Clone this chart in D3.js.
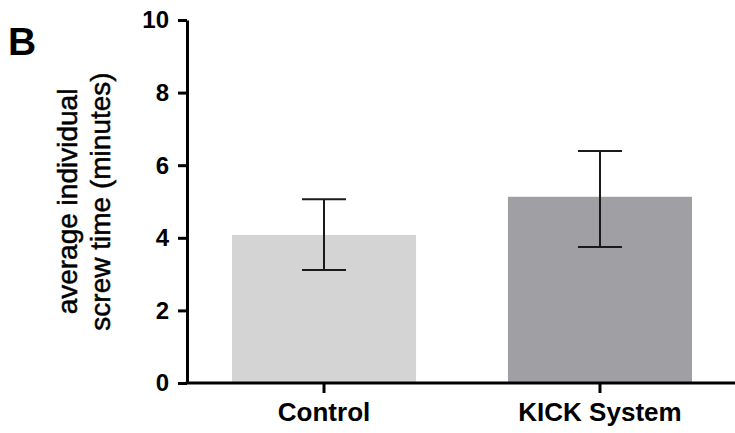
<!DOCTYPE html>
<html>
<head>
<meta charset="utf-8">
<script src="https://cdn.jsdelivr.net/npm/d3@7"></script>
<style>
  body { margin: 0; background: #fff; }
  text { font-family: "Liberation Sans", Arial, sans-serif; }
</style>
</head>
<body>
<div id="chart"></div>
<script>
// data
const groups = ["Control", "KICK System"];
const means = [4.08, 5.13];
const errLow = [3.11, 3.75];
const errHigh = [5.06, 6.39];
const barColors = ["#d4d4d4", "#a09fa3"];
const yTicks = [0, 2, 4, 6, 8, 10];

const W = 735, H = 433;
const x0 = 187, y0 = 383, yTop = 20;

const svg = d3.select("#chart").append("svg")
    .attr("width", W)
    .attr("height", H);

const x = d3.scaleBand()
    .domain(groups)
    .range([x0, 737])
    .paddingInner(0.333)
    .paddingOuter(0.163);

const y = d3.scaleLinear()
    .domain([0, 10])
    .range([y0, yTop]);

// bars
svg.selectAll("rect.bar")
    .data(groups)
    .enter()
    .append("rect")
    .attr("class", "bar")
    .attr("x", d => x(d))
    .attr("y", (d, i) => y(means[i]))
    .attr("width", x.bandwidth())
    .attr("height", (d, i) => y0 - y(means[i]))
    .attr("fill", (d, i) => barColors[i]);

// error bars
const cap = 22;
groups.forEach((g, i) => {
    const cx = x(g) + x.bandwidth() / 2;
    const eb = svg.append("g")
        .attr("stroke", "#1a1a1a")
        .attr("stroke-width", 2);
    eb.append("line")
        .attr("x1", cx).attr("x2", cx)
        .attr("y1", y(errLow[i])).attr("y2", y(errHigh[i]));
    eb.append("line")
        .attr("x1", cx - cap).attr("x2", cx + cap)
        .attr("y1", y(errHigh[i])).attr("y2", y(errHigh[i]));
    eb.append("line")
        .attr("x1", cx - cap).attr("x2", cx + cap)
        .attr("y1", y(errLow[i])).attr("y2", y(errLow[i]));
});

// y axis
const yAxis = svg.append("g")
    .attr("transform", `translate(${x0},0)`)
    .call(d3.axisLeft(y).tickValues(yTicks).tickSize(9).tickPadding(9).tickSizeOuter(0));
yAxis.select(".domain").attr("stroke", "#000").attr("stroke-width", 3);
yAxis.selectAll(".tick line").attr("stroke", "#000").attr("stroke-width", 3);
yAxis.selectAll(".tick text")
    .attr("fill", "#000")
    .style("font-size", "24px")
    .style("font-weight", "bold")
    .attr("dy", "0.33em");

// x axis
const xAxis = svg.append("g")
    .attr("transform", `translate(0,${y0})`)
    .call(d3.axisBottom(x).tickSize(10).tickPadding(10).tickSizeOuter(0));
xAxis.select(".domain").attr("stroke", "#000").attr("stroke-width", 3)
    .attr("d", `M${x0 - 1.5},0H${W}`);
xAxis.selectAll(".tick line").attr("stroke", "#000").attr("stroke-width", 3);
xAxis.selectAll(".tick text")
    .attr("fill", "#000")
    .style("font-size", "26px")
    .style("font-weight", "bold");

// y axis label
const yLabel = svg.append("text")
    .attr("transform", `translate(0,${(y0 + yTop) / 2}) rotate(-90)`)
    .attr("text-anchor", "middle")
    .style("font-size", "28px")
    .attr("fill", "#000")
    .attr("stroke", "#000")
    .attr("stroke-width", 0.5);
yLabel.append("tspan").attr("x", 0).attr("y", 77).text("average individual");
yLabel.append("tspan").attr("x", 0).attr("y", 110).text("screw time (minutes)");

// panel letter
svg.append("text")
    .attr("x", 8)
    .attr("y", 55)
    .style("font-size", "39px")
    .style("font-weight", "bold")
    .attr("fill", "#000")
    .text("B");
</script>
</body>
</html>
